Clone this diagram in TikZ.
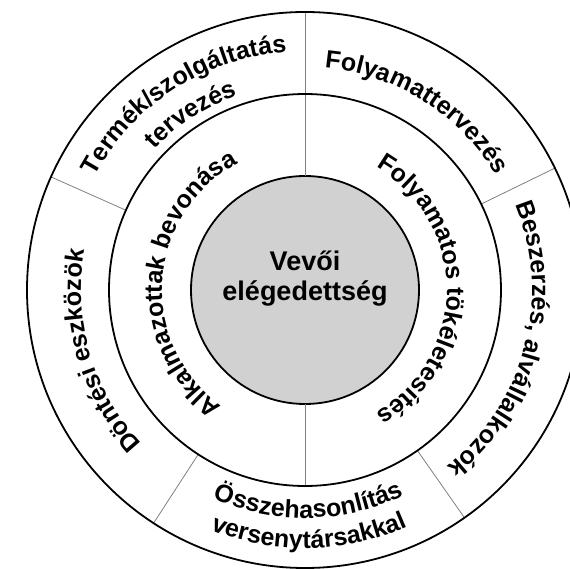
\documentclass[tikz,border=0pt]{standalone}
\usepackage{fontspec}
\setmainfont{Liberation Sans}
\usetikzlibrary{decorations.text}

\newcommand\ringfont{\fontsize{25}{30}\selectfont\bfseries}

\begin{document}
\begin{tikzpicture}[%
    x=1pt, y=1pt,               % one unit is one pixel of the drawing
    ]
% -------------------------------------------------
% A few styles
\tikzset{
  ring/.style={draw, line width=1.8pt},
  core/.style={circle, ring, fill=black!18, minimum size=228pt, inner sep=0pt},
  coretext/.style={align=center, font=\fontsize{27}{30}\selectfont\bfseries},
  % thin grey lines between the fields of a ring
  divider/.style={draw=black!50, line width=0.8pt},
  ringtext/.style={decorate, decoration={text along path, text align=center}}
}
\useasboundingbox (-305,-279) rectangle (265,290);
% -------------------------------------------------
% Centre and rings
\node [core] (core) at (0,0) {};
\node [coretext] (vevo) at ([yshift=11pt]core.center) {Vevői\\elégedettség};

\foreach \a in {90,270}
  \draw [divider] (\a:114) -- (\a:196);
\foreach \a in {90,26,-55,-123,156}
  \draw [divider] (\a:196) -- (\a:278);

\draw [ring] (core.center) circle [radius=196];
\draw [ring] (core.center) circle [radius=278];

% -------------------------------------------------
% Inner ring: text runs clockwise, tops outward
\path [ringtext, decoration={text={|\ringfont|Alkalmazottak bevonása}}]
  (266:143) arc [start angle=266, end angle=86, radius=143];
\path [ringtext, decoration={text={|\ringfont|Folyamatos tökéletesítés}}]
  (90:142) arc [start angle=90, end angle=-90, radius=142];

% -------------------------------------------------
% Outer ring
\path [ringtext, decoration={text={|\ringfont|Termék/szolgáltatás}}]
  (156:239) arc [start angle=156, end angle=90, radius=239];
\path [ringtext, decoration={text={|\ringfont|tervezés}}]
  (156:206) arc [start angle=156, end angle=90, radius=206];
\path [ringtext, decoration={text={|\ringfont|Folyamattervezés}}]
  (90:223) arc [start angle=90, end angle=26, radius=223];
\path [ringtext, decoration={text={|\ringfont|Beszerzés, alvállalkozók}}]
  (26:227) arc [start angle=26, end angle=-55, radius=227];
\path [ringtext, decoration={text={|\ringfont|Döntési eszközök}}]
  (237:224) arc [start angle=237, end angle=156, radius=224];
% bottom field reads counter-clockwise, tops inward
\path [ringtext, decoration={text={|\ringfont|Összehasonlítás}}]
  (-123:228) arc [start angle=-123, end angle=-55, radius=228];
\path [ringtext, decoration={text={|\ringfont|versenytársakkal}}]
  (-123:258) arc [start angle=-123, end angle=-55, radius=258];
% -------------------------------------------------
\end{tikzpicture}
\end{document}
